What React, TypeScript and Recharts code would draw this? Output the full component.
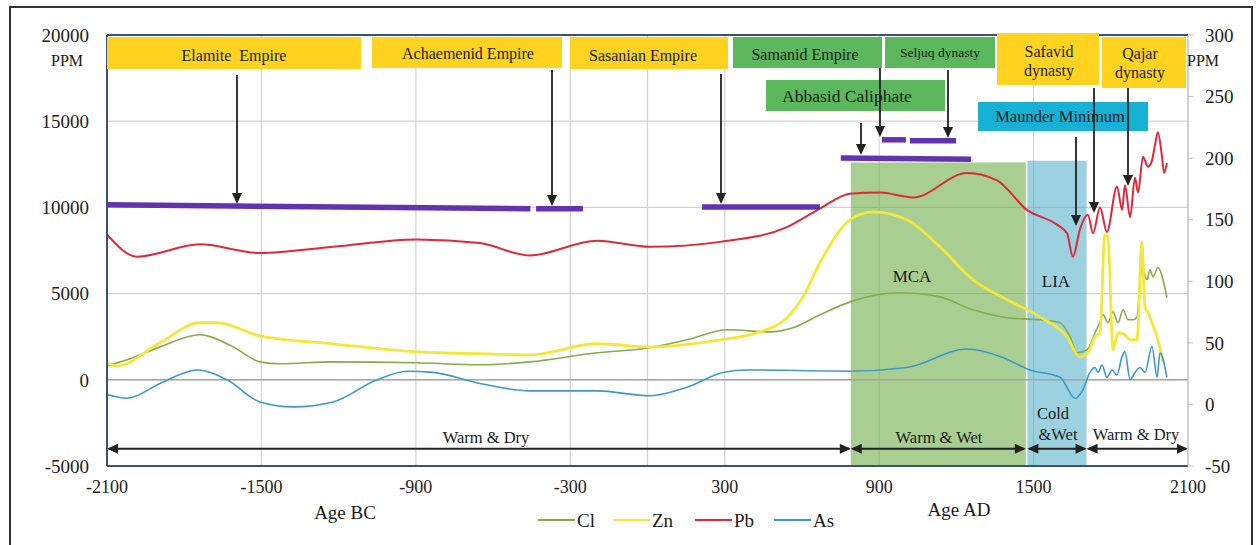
import React from 'react';
import {
  LineChart,
  Line,
  XAxis,
  YAxis,
  CartesianGrid,
  ReferenceLine,
  ReferenceArea
} from 'recharts';

// ---- data ----
const xTicks = [-2100, -1500, -900, -300, 300, 900, 1500, 2100];
const leftTicks = [-5000, 0, 5000, 10000, 15000, 20000];
const rightTicks = [-50, 0, 50, 100, 150, 200, 250, 300];

// Cl and Zn on the left axis, Pb and As on the right axis  [year, ppm]
const cl: [number, number][] = [
  [-2100, 810], [-2022, 1160], [-1894, 1910], [-1739, 2610], [-1610, 1910], [-1506, 1040],
  [-1428, 930], [-1222, 1040], [-896, 990], [-651, 870], [-457, 1040], [-196, 1570],
  [10, 1860], [154, 2320], [309, 2900], [476, 2780], [565, 3020], [670, 3770], [787, 4520],
  [981, 5050], [1136, 4810], [1265, 4060], [1397, 3600], [1525, 3480], [1603, 3310],
  [1642, 2490], [1669, 1570], [1708, 1740], [1739, 2730], [1758, 3360], [1770, 3770],
  [1789, 3310], [1809, 3940], [1828, 3310], [1848, 4060], [1867, 3480], [1887, 3480],
  [1902, 3650], [1921, 6550], [1941, 5800], [1952, 6380], [1964, 5970], [1983, 6500],
  [2018, 4760]
];

const zn: [number, number][] = [
  [-2100, 990], [-2061, 810], [-1894, 2150], [-1739, 3310], [-1673, 3310], [-1506, 2550],
  [-1222, 2090], [-896, 1620], [-651, 1510], [-457, 1450], [-196, 2090], [10, 1910],
  [282, 2320], [437, 2780], [542, 3600], [604, 4810], [670, 6790], [787, 9280], [876, 9740],
  [1008, 9280], [1136, 7710], [1265, 5800], [1397, 4640], [1525, 3650], [1630, 2490],
  [1680, 1330], [1711, 1570], [1739, 2490], [1758, 2730], [1777, 8410], [1789, 8290],
  [1809, 1740], [1828, 2730], [1855, 2610], [1875, 2320], [1902, 2320], [1921, 8000],
  [1933, 4230], [1945, 3890], [1960, 3310], [1980, 2490], [2003, 1040]
];

const pb: [number, number][] = [
  [-2100, 138], [-1983, 120], [-1739, 130], [-1506, 123], [-1222, 128], [-896, 134],
  [-651, 131], [-457, 121], [-196, 133], [10, 128], [282, 132], [542, 144], [670, 159],
  [787, 171], [903, 172], [1032, 168], [1241, 188], [1358, 182], [1474, 158], [1591, 146],
  [1630, 139], [1653, 120], [1680, 142], [1711, 154], [1731, 139], [1758, 160], [1785, 140],
  [1824, 177], [1844, 158], [1855, 178], [1875, 152], [1894, 184], [1906, 172], [1925, 201],
  [1945, 193], [1960, 198], [1972, 211], [1983, 221], [1999, 201], [2007, 188], [2018, 196]
];

const as: [number, number][] = [
  [-2100, 8], [-2022, 5], [-1894, 17], [-1750, 28], [-1634, 20], [-1506, 2], [-1377, -2],
  [-1222, 2], [-1051, 20], [-934, 27], [-833, 26], [-651, 17], [-457, 11], [-196, 11],
  [10, 7], [154, 14], [293, 26], [387, 28], [787, 27], [1008, 30], [1241, 45], [1370, 39],
  [1486, 28], [1603, 22], [1661, 5], [1692, 12], [1719, 26], [1739, 30], [1750, 26],
  [1766, 32], [1785, 22], [1805, 28], [1824, 24], [1844, 39], [1855, 43], [1875, 20],
  [1894, 26], [1914, 30], [1933, 26], [1960, 47], [1980, 22], [1991, 42], [2018, 22]
];

// ruling periods drawn as purple bars: [start, end, levelStart, levelEnd] (left axis)
const periods: [number, number, number, number][] = [
  [-2100, -455, 10150, 9920],
  [-433, -251, 9920, 9920],
  [212, 670, 10030, 10030],
  [751, 1257, 12870, 12800],
  [911, 1004, 13920, 13920],
  [1020, 1199, 13860, 13860]
];

// climate phases [start, end]
const climate: [number, number][] = [
  [-2100, 790],
  [790, 1470],
  [1476, 1706],
  [1706, 2100]
];

const mca: [number, number] = [790, 1470];
const lia: [number, number] = [1476, 1706];

const rows = (pts: [number, number][]) => pts.map(([year, v]) => ({ year, v }));

const FONT = "'Liberation Serif', 'Times New Roman', serif";
const YELLOW = '#ffd31f';
const GREEN = '#5cb85c';
const CYAN = '#17b1d5';
const FRAME = '#3a5470';

const series = [
  { name: 'Cl', data: cl, axis: 'left', color: '#86ac4c', width: 1.6 },
  { name: 'Zn', data: zn, axis: 'left', color: '#f1e83a', width: 2.8 },
  { name: 'Pb', data: pb, axis: 'right', color: '#dc2a3c', width: 2 },
  { name: 'As', data: as, axis: 'right', color: '#3c9ac8', width: 1.6 }
];

// ---- annotation layout (pixels) ----
const boxes = [
  { lines: ['Elamite  Empire'], x: 107, y: 37, w: 254, h: 32, fill: YELLOW, fs: 16, tx: 234, ty: [55] },
  { lines: ['Achaemenid Empire'], x: 372, y: 37, w: 190, h: 31, fill: YELLOW, fs: 16, tx: 468, ty: [53] },
  { lines: ['Sasanian Empire'], x: 570, y: 37, w: 158, h: 32, fill: YELLOW, fs: 16, tx: 643, ty: [55] },
  { lines: ['Samanid Empire'], x: 733, y: 37, w: 149, h: 31, fill: GREEN, fs: 16, tx: 805, ty: [54] },
  { lines: ['Seljuq dynasty'], x: 885, y: 37, w: 110, h: 31, fill: GREEN, fs: 13.5, tx: 940, ty: [52] },
  { lines: ['Abbasid Caliphate'], x: 766, y: 80, w: 179, h: 31, fill: GREEN, fs: 17.5, tx: 847, ty: [96] },
  { lines: ['Safavid', 'dynasty'], x: 997, y: 33, w: 102, h: 52, fill: YELLOW, fs: 16, tx: 1049, ty: [51, 70] },
  { lines: ['Qajar', 'dynasty'], x: 1102, y: 37, w: 84, h: 51, fill: YELLOW, fs: 16, tx: 1140, ty: [53, 72] },
  { lines: ['Maunder Minimum'], x: 978, y: 102, w: 170, h: 29, fill: CYAN, fs: 16.5, tx: 1060, ty: [116] }
];

const arrows: [number, number, number][] = [
  [237, 75, 204], [552, 70, 206], [721, 74, 204], [861, 123, 155], [880, 68, 137],
  [948, 70, 138], [1076, 137, 226], [1094, 88, 213], [1128, 88, 186]
];

const labels = [
  { t: 'PPM', x: 67, y: 60, fs: 16 },
  { t: 'PPM', x: 1203, y: 60, fs: 16 },
  { t: 'Age BC', x: 345, y: 512, fs: 19 },
  { t: 'Age AD', x: 959, y: 509, fs: 19 },
  { t: 'MCA', x: 912, y: 276, fs: 17 },
  { t: 'LIA', x: 1056, y: 281, fs: 17 },
  { t: 'Warm & Dry', x: 486, y: 437, fs: 16.5 },
  { t: 'Warm & Wet', x: 939, y: 437, fs: 16.5 },
  { t: 'Cold', x: 1053, y: 413, fs: 16.5 },
  { t: '&Wet', x: 1058, y: 434, fs: 16.5 },
  { t: 'Warm & Dry', x: 1136, y: 434, fs: 16.5 }
];

const legendPos = [538, 613, 695, 774];

const DoubleArrow = (p: any) => {
  const { x1, y1, x2, y2 } = p;
  const h = 11;
  const w = 5;
  return (
    <g>
      <line x1={x1 + 2} y1={y1} x2={x2 - 2} y2={y2} stroke="#222" strokeWidth={1.8} />
      <polygon points={`${x1},${y1} ${x1 + h},${y1 - w} ${x1 + h},${y1 + w}`} fill="#222" />
      <polygon points={`${x2},${y2} ${x2 - h},${y2 - w} ${x2 - h},${y2 + w}`} fill="#222" />
    </g>
  );
};

const tickStyle = { fontFamily: FONT, fontSize: 19, fill: '#222' };

export default function App() {
  return (
    <div style={{ position: 'absolute', left: 0, top: 0, width: 1256, height: 545, background: '#fff', overflow: 'hidden' }}>
      <div style={{ position: 'absolute', left: 9, top: 6, width: 1244, height: 560, border: '2px solid #333', boxSizing: 'border-box' }} />
      <LineChart width={1256} height={545} margin={{ top: 35, right: 8, bottom: 49, left: 47 }}>
        <CartesianGrid yAxisId="left" stroke="#d3d3d3" strokeWidth={1.2} />
        <XAxis
          dataKey="year"
          type="number"
          domain={[-2100, 2100]}
          ticks={xTicks}
          height={30}
          tickLine={false}
          tickMargin={8}
          axisLine={{ stroke: FRAME, strokeWidth: 2 }}
          tick={{ ...tickStyle, fontSize: 18 }}
        />
        <YAxis
          yAxisId="left"
          domain={[-5000, 20000]}
          ticks={leftTicks}
          width={60}
          tickLine={false}
          tickMargin={12}
          axisLine={{ stroke: FRAME, strokeWidth: 2 }}
          tick={tickStyle}
        />
        <YAxis
          yAxisId="right"
          orientation="right"
          domain={[-50, 300]}
          ticks={rightTicks}
          width={60}
          tickSize={5}
          tickMargin={12}
          axisLine={{ stroke: '#bdbdbd' }}
          tickLine={{ stroke: '#bdbdbd' }}
          tick={tickStyle}
        />
        <ReferenceLine yAxisId="left" x={0} stroke="#d3d3d3" strokeWidth={1.2} />
        <ReferenceLine yAxisId="left" y={0} stroke="#a8a8a8" strokeWidth={1.4} />
        <ReferenceLine yAxisId="left" y={20000} stroke={FRAME} strokeWidth={2} />
        {series.map((s) => (
          <Line
            key={s.name}
            data={rows(s.data)}
            dataKey="v"
            name={s.name}
            yAxisId={s.axis}
            type="monotone"
            stroke={s.color}
            strokeWidth={s.width}
            dot={false}
            isAnimationActive={false}
          />
        ))}
        <ReferenceArea yAxisId="left" x1={mca[0]} x2={mca[1]} y1={-5000} y2={12600} fill="#70ad47" fillOpacity={0.6} stroke="none" />
        <ReferenceArea yAxisId="left" x1={lia[0]} x2={lia[1]} y1={-5000} y2={12700} fill="#4bacc6" fillOpacity={0.55} stroke="none" />
        {periods.map(([a, b, la, lb], i) => (
          <ReferenceLine
            key={'p' + i}
            yAxisId="left"
            segment={[{ x: a, y: la }, { x: b, y: lb }]}
            stroke="#6232b0"
            strokeWidth={5.5}
          />
        ))}
        {climate.map(([a, b], i) => (
          <ReferenceLine
            key={'c' + i}
            yAxisId="left"
            segment={[{ x: a, y: -4000 }, { x: b, y: -4000 }]}
            shape={DoubleArrow}
          />
        ))}
      </LineChart>
      <svg width={1256} height={545} style={{ position: 'absolute', left: 0, top: 0, pointerEvents: 'none' }}>
        {boxes.map((b, i) => (
          <g key={'b' + i}>
            <rect x={b.x} y={b.y} width={b.w} height={b.h} fill={b.fill} />
            {b.lines.map((t, j) => (
              <text key={j} x={b.tx} y={b.ty[j]} textAnchor="middle" dominantBaseline="central"
                fontFamily={FONT} fontSize={b.fs} fill="#1a1a1a" style={{ whiteSpace: 'pre' }}>
                {t}
              </text>
            ))}
          </g>
        ))}
        {arrows.map(([x, y1, y2], i) => (
          <g key={'a' + i}>
            <line x1={x} y1={y1} x2={x} y2={y2 - 8} stroke="#222" strokeWidth={1.8} />
            <polygon points={`${x},${y2} ${x - 5},${y2 - 11} ${x + 5},${y2 - 11}`} fill="#222" />
          </g>
        ))}
        {labels.map((l, i) => (
          <text key={'l' + i} x={l.x} y={l.y} textAnchor="middle" dominantBaseline="central"
            fontFamily={FONT} fontSize={l.fs} fill="#1a1a1a">
            {l.t}
          </text>
        ))}
        {series.map((s, i) => (
          <g key={'lg' + i}>
            <line x1={legendPos[i]} y1={520} x2={legendPos[i] + 37} y2={520} stroke={s.color} strokeWidth={2} />
            <text x={legendPos[i] + 39} y={520} dominantBaseline="central" fontFamily={FONT} fontSize={19} fill="#1a1a1a">
              {s.name}
            </text>
          </g>
        ))}
      </svg>
    </div>
  );
}
